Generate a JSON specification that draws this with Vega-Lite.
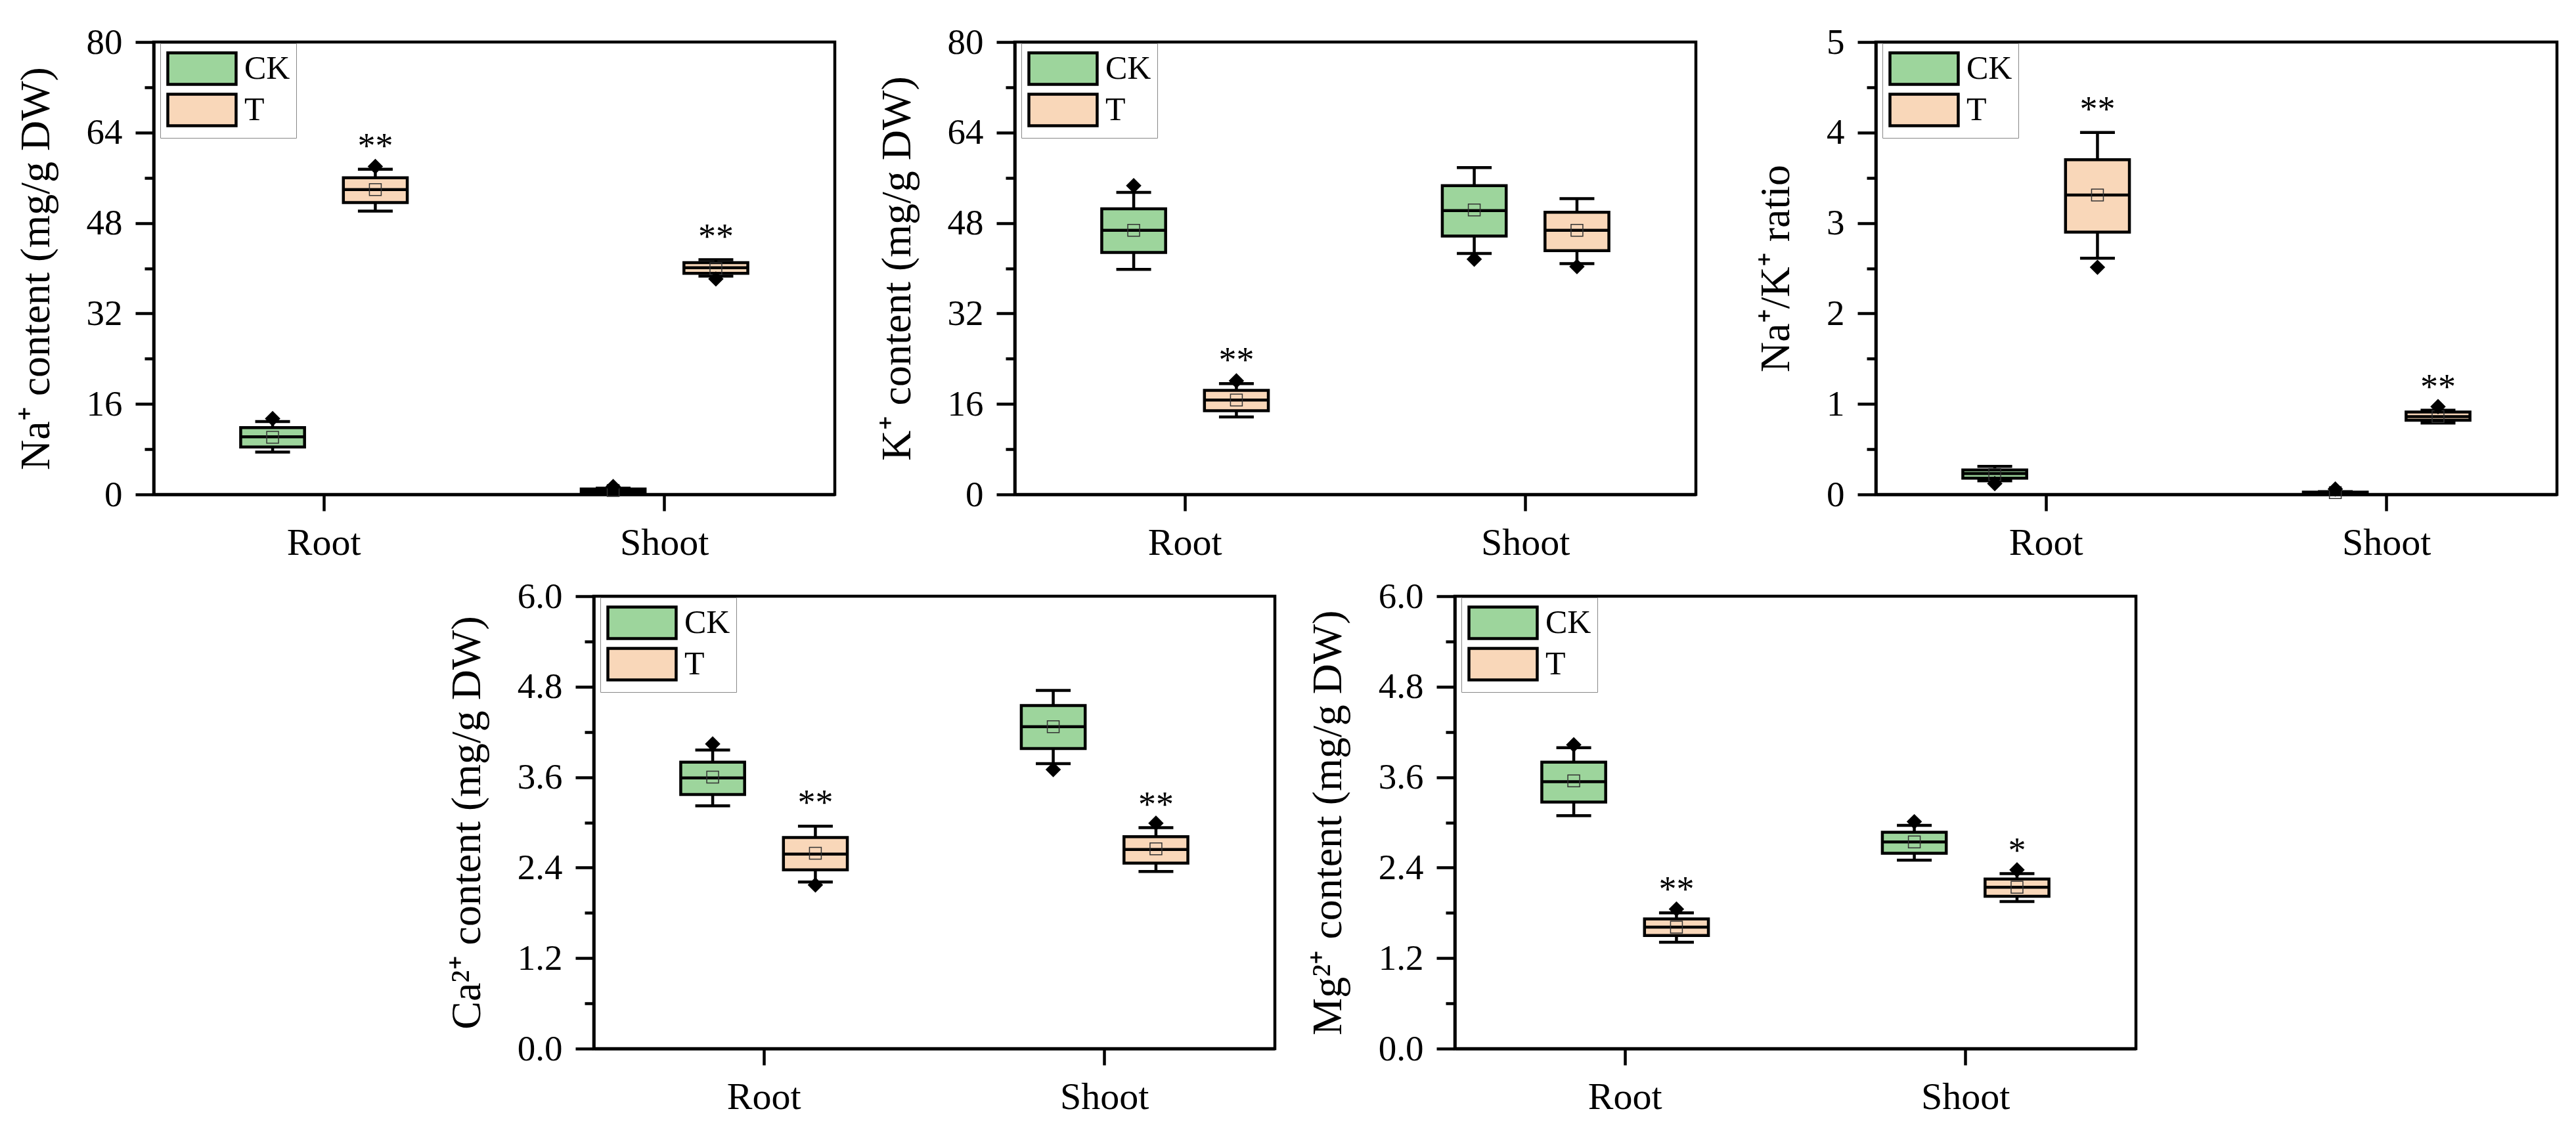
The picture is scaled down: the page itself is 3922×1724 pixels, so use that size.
{
  "$schema": "https://vega.github.io/schema/vega-lite/v6.json",
  "background": "white",
  "padding": {"left": 20, "top": 34, "right": 5, "bottom": 5},
  "datasets": {
    "stats": [
      {"panel": "p1", "tissue": "Root", "group": "CK", "lo": 7.5, "q1": 8.4, "med": 10.2, "q3": 11.8, "hi": 12.9, "mean": 10.1, "sig": ""},
      {"panel": "p1", "tissue": "Root", "group": "T", "lo": 50.1, "q1": 51.6, "med": 53.9, "q3": 56.0, "hi": 57.5, "mean": 53.9, "sig": "**"},
      {"panel": "p1", "tissue": "Shoot", "group": "CK", "lo": 0.3, "q1": 0.45, "med": 0.7, "q3": 0.95, "hi": 1.1, "mean": 0.7, "sig": ""},
      {"panel": "p1", "tissue": "Shoot", "group": "T", "lo": 38.6, "q1": 39.1, "med": 40.1, "q3": 41.0, "hi": 41.5, "mean": 39.9, "sig": "**"},
      {"panel": "p2", "tissue": "Root", "group": "CK", "lo": 39.8, "q1": 42.8, "med": 46.7, "q3": 50.5, "hi": 53.4, "mean": 46.7, "sig": ""},
      {"panel": "p2", "tissue": "Root", "group": "T", "lo": 13.7, "q1": 14.8, "med": 16.7, "q3": 18.4, "hi": 19.6, "mean": 16.7, "sig": "**"},
      {"panel": "p2", "tissue": "Shoot", "group": "CK", "lo": 42.6, "q1": 45.7, "med": 50.2, "q3": 54.6, "hi": 57.8, "mean": 50.3, "sig": ""},
      {"panel": "p2", "tissue": "Shoot", "group": "T", "lo": 40.8, "q1": 43.1, "med": 46.7, "q3": 49.9, "hi": 52.3, "mean": 46.7, "sig": ""},
      {"panel": "p3", "tissue": "Root", "group": "CK", "lo": 0.15, "q1": 0.18, "med": 0.23, "q3": 0.27, "hi": 0.31, "mean": 0.22, "sig": ""},
      {"panel": "p3", "tissue": "Root", "group": "T", "lo": 2.61, "q1": 2.9, "med": 3.31, "q3": 3.7, "hi": 4.0, "mean": 3.31, "sig": "**"},
      {"panel": "p3", "tissue": "Shoot", "group": "CK", "lo": 0.005, "q1": 0.01, "med": 0.02, "q3": 0.025, "hi": 0.03, "mean": 0.02, "sig": ""},
      {"panel": "p3", "tissue": "Shoot", "group": "T", "lo": 0.79, "q1": 0.82, "med": 0.86, "q3": 0.91, "hi": 0.93, "mean": 0.86, "sig": "**"},
      {"panel": "p4", "tissue": "Root", "group": "CK", "lo": 3.22, "q1": 3.37, "med": 3.59, "q3": 3.8, "hi": 3.96, "mean": 3.6, "sig": ""},
      {"panel": "p4", "tissue": "Root", "group": "T", "lo": 2.21, "q1": 2.37, "med": 2.58, "q3": 2.8, "hi": 2.95, "mean": 2.59, "sig": "**"},
      {"panel": "p4", "tissue": "Shoot", "group": "CK", "lo": 3.78, "q1": 3.98, "med": 4.27, "q3": 4.55, "hi": 4.75, "mean": 4.27, "sig": ""},
      {"panel": "p4", "tissue": "Shoot", "group": "T", "lo": 2.35, "q1": 2.46, "med": 2.64, "q3": 2.81, "hi": 2.93, "mean": 2.65, "sig": "**"},
      {"panel": "p5", "tissue": "Root", "group": "CK", "lo": 3.09, "q1": 3.27, "med": 3.54, "q3": 3.8, "hi": 3.99, "mean": 3.55, "sig": ""},
      {"panel": "p5", "tissue": "Root", "group": "T", "lo": 1.41, "q1": 1.5, "med": 1.61, "q3": 1.72, "hi": 1.8, "mean": 1.61, "sig": "**"},
      {"panel": "p5", "tissue": "Shoot", "group": "CK", "lo": 2.5, "q1": 2.59, "med": 2.74, "q3": 2.87, "hi": 2.96, "mean": 2.74, "sig": ""},
      {"panel": "p5", "tissue": "Shoot", "group": "T", "lo": 1.95, "q1": 2.02, "med": 2.14, "q3": 2.25, "hi": 2.32, "mean": 2.14, "sig": "*"}
    ],
    "outliers": [
      {"panel": "p1", "tissue": "Root", "group": "CK", "value": 13.4},
      {"panel": "p1", "tissue": "Root", "group": "T", "value": 58.0},
      {"panel": "p1", "tissue": "Shoot", "group": "CK", "value": 1.4},
      {"panel": "p1", "tissue": "Shoot", "group": "T", "value": 38.1},
      {"panel": "p2", "tissue": "Root", "group": "CK", "value": 54.6},
      {"panel": "p2", "tissue": "Root", "group": "T", "value": 20.1},
      {"panel": "p2", "tissue": "Shoot", "group": "CK", "value": 41.6},
      {"panel": "p2", "tissue": "Shoot", "group": "T", "value": 40.3},
      {"panel": "p3", "tissue": "Root", "group": "CK", "value": 0.12},
      {"panel": "p3", "tissue": "Root", "group": "T", "value": 2.51},
      {"panel": "p3", "tissue": "Shoot", "group": "CK", "value": 0.06},
      {"panel": "p3", "tissue": "Shoot", "group": "T", "value": 0.97},
      {"panel": "p4", "tissue": "Root", "group": "CK", "value": 4.04},
      {"panel": "p4", "tissue": "Root", "group": "T", "value": 2.17},
      {"panel": "p4", "tissue": "Shoot", "group": "CK", "value": 3.7},
      {"panel": "p4", "tissue": "Shoot", "group": "T", "value": 2.99},
      {"panel": "p5", "tissue": "Root", "group": "CK", "value": 4.03},
      {"panel": "p5", "tissue": "Root", "group": "T", "value": 1.85},
      {"panel": "p5", "tissue": "Shoot", "group": "CK", "value": 3.01},
      {"panel": "p5", "tissue": "Shoot", "group": "T", "value": 2.37}
    ]
  },
  "vconcat": [
    {
      "hconcat": [
        {
          "width": 1037, "height": 689,
          "data": {"name": "stats"},
          "transform": [{"filter": "datum.panel === 'p1'"}],
          "encoding": {
            "x": {"field": "tissue", "type": "nominal", "title": null, "scale": {"domain": ["Root", "Shoot"], "paddingInner": 0, "paddingOuter": 0}},
            "xOffset": {"field": "group", "type": "nominal", "scale": {"domain": ["CK", "T"], "paddingInner": 0.378, "paddingOuter": 0.847}}
          },
          "layer": [
            {"mark": {"type": "rule", "color": "black", "strokeWidth": 4.5},
             "encoding": {"y": {"field": "lo", "type": "quantitative", "title": "Na⁺ content (mg/g DW)", "scale": {"domain": [0, 80], "nice": false}, "axis": {"values": [0, 8, 16, 24, 32, 40, 48, 56, 64, 72, 80], "labelExpr": "datum.value % 16 === 0 ? datum.label : ''", "tickSize": {"condition": {"test": "datum.value % 16 !== 0", "value": 14}, "value": 28}}}, "y2": {"field": "hi"}}},
            {"transform": [{"fold": ["lo", "hi"], "as": ["k", "v"]}],
             "mark": {"type": "tick", "color": "black", "thickness": 4.5, "size": 53, "opacity": 1},
             "encoding": {"y": {"field": "v", "type": "quantitative", "title": "Na⁺ content (mg/g DW)", "scale": {"domain": [0, 80], "nice": false}, "axis": {"values": [0, 8, 16, 24, 32, 40, 48, 56, 64, 72, 80], "labelExpr": "datum.value % 16 === 0 ? datum.label : ''", "tickSize": {"condition": {"test": "datum.value % 16 !== 0", "value": 14}, "value": 28}}}}},
            {"mark": {"type": "bar", "stroke": "black", "strokeWidth": 4.5, "opacity": 1},
             "encoding": {"y": {"field": "q1", "type": "quantitative", "title": "Na⁺ content (mg/g DW)", "scale": {"domain": [0, 80], "nice": false}, "axis": {"values": [0, 8, 16, 24, 32, 40, 48, 56, 64, 72, 80], "labelExpr": "datum.value % 16 === 0 ? datum.label : ''", "tickSize": {"condition": {"test": "datum.value % 16 !== 0", "value": 14}, "value": 28}}}, "y2": {"field": "q3"},
               "color": {"field": "group", "type": "nominal", "scale": {"domain": ["CK", "T"], "range": ["#9DD59C", "#F9D7B9"]}, "legend": {"orient": "none", "legendX": 10, "legendY": 2, "title": null, "direction": "vertical"}}}},
            {"mark": {"type": "tick", "color": "black", "thickness": 4.5, "size": 100, "opacity": 1},
             "encoding": {"y": {"field": "med", "type": "quantitative", "title": "Na⁺ content (mg/g DW)", "scale": {"domain": [0, 80], "nice": false}, "axis": {"values": [0, 8, 16, 24, 32, 40, 48, 56, 64, 72, 80], "labelExpr": "datum.value % 16 === 0 ? datum.label : ''", "tickSize": {"condition": {"test": "datum.value % 16 !== 0", "value": 14}, "value": 28}}}}},
            {"mark": {"type": "point", "shape": "square", "filled": false, "size": 324, "color": "#333333", "strokeWidth": 1.5, "opacity": 1},
             "encoding": {"y": {"field": "mean", "type": "quantitative", "title": "Na⁺ content (mg/g DW)", "scale": {"domain": [0, 80], "nice": false}, "axis": {"values": [0, 8, 16, 24, 32, 40, 48, 56, 64, 72, 80], "labelExpr": "datum.value % 16 === 0 ? datum.label : ''", "tickSize": {"condition": {"test": "datum.value % 16 !== 0", "value": 14}, "value": 28}}}}},
            {"data": {"name": "outliers"}, "transform": [{"filter": "datum.panel === 'p1'"}],
             "mark": {"type": "point", "shape": "diamond", "filled": true, "size": 550, "color": "black", "opacity": 1},
             "encoding": {"y": {"field": "value", "type": "quantitative", "title": "Na⁺ content (mg/g DW)", "scale": {"domain": [0, 80], "nice": false}, "axis": {"values": [0, 8, 16, 24, 32, 40, 48, 56, 64, 72, 80], "labelExpr": "datum.value % 16 === 0 ? datum.label : ''", "tickSize": {"condition": {"test": "datum.value % 16 !== 0", "value": 14}, "value": 28}}}}},
            {"transform": [{"filter": "datum.sig !== ''"}],
             "mark": {"type": "text", "font": "Liberation Serif", "fontSize": 54, "dy": -18, "baseline": "alphabetic", "color": "black"},
             "encoding": {"text": {"field": "sig"}, "y": {"field": "hi", "type": "quantitative", "title": "Na⁺ content (mg/g DW)", "scale": {"domain": [0, 80], "nice": false}, "axis": {"values": [0, 8, 16, 24, 32, 40, 48, 56, 64, 72, 80], "labelExpr": "datum.value % 16 === 0 ? datum.label : ''", "tickSize": {"condition": {"test": "datum.value % 16 !== 0", "value": 14}, "value": 28}}}}}
          ]
        },
        {
          "width": 1037, "height": 689,
          "data": {"name": "stats"},
          "transform": [{"filter": "datum.panel === 'p2'"}],
          "encoding": {
            "x": {"field": "tissue", "type": "nominal", "title": null, "scale": {"domain": ["Root", "Shoot"], "paddingInner": 0, "paddingOuter": 0}},
            "xOffset": {"field": "group", "type": "nominal", "scale": {"domain": ["CK", "T"], "paddingInner": 0.378, "paddingOuter": 0.847}}
          },
          "layer": [
            {"mark": {"type": "rule", "color": "black", "strokeWidth": 4.5},
             "encoding": {"y": {"field": "lo", "type": "quantitative", "title": "K⁺ content (mg/g DW)", "scale": {"domain": [0, 80], "nice": false}, "axis": {"values": [0, 8, 16, 24, 32, 40, 48, 56, 64, 72, 80], "labelExpr": "datum.value % 16 === 0 ? datum.label : ''", "tickSize": {"condition": {"test": "datum.value % 16 !== 0", "value": 14}, "value": 28}}}, "y2": {"field": "hi"}}},
            {"transform": [{"fold": ["lo", "hi"], "as": ["k", "v"]}],
             "mark": {"type": "tick", "color": "black", "thickness": 4.5, "size": 53, "opacity": 1},
             "encoding": {"y": {"field": "v", "type": "quantitative", "title": "K⁺ content (mg/g DW)", "scale": {"domain": [0, 80], "nice": false}, "axis": {"values": [0, 8, 16, 24, 32, 40, 48, 56, 64, 72, 80], "labelExpr": "datum.value % 16 === 0 ? datum.label : ''", "tickSize": {"condition": {"test": "datum.value % 16 !== 0", "value": 14}, "value": 28}}}}},
            {"mark": {"type": "bar", "stroke": "black", "strokeWidth": 4.5, "opacity": 1},
             "encoding": {"y": {"field": "q1", "type": "quantitative", "title": "K⁺ content (mg/g DW)", "scale": {"domain": [0, 80], "nice": false}, "axis": {"values": [0, 8, 16, 24, 32, 40, 48, 56, 64, 72, 80], "labelExpr": "datum.value % 16 === 0 ? datum.label : ''", "tickSize": {"condition": {"test": "datum.value % 16 !== 0", "value": 14}, "value": 28}}}, "y2": {"field": "q3"},
               "color": {"field": "group", "type": "nominal", "scale": {"domain": ["CK", "T"], "range": ["#9DD59C", "#F9D7B9"]}, "legend": {"orient": "none", "legendX": 10, "legendY": 2, "title": null, "direction": "vertical"}}}},
            {"mark": {"type": "tick", "color": "black", "thickness": 4.5, "size": 100, "opacity": 1},
             "encoding": {"y": {"field": "med", "type": "quantitative", "title": "K⁺ content (mg/g DW)", "scale": {"domain": [0, 80], "nice": false}, "axis": {"values": [0, 8, 16, 24, 32, 40, 48, 56, 64, 72, 80], "labelExpr": "datum.value % 16 === 0 ? datum.label : ''", "tickSize": {"condition": {"test": "datum.value % 16 !== 0", "value": 14}, "value": 28}}}}},
            {"mark": {"type": "point", "shape": "square", "filled": false, "size": 324, "color": "#333333", "strokeWidth": 1.5, "opacity": 1},
             "encoding": {"y": {"field": "mean", "type": "quantitative", "title": "K⁺ content (mg/g DW)", "scale": {"domain": [0, 80], "nice": false}, "axis": {"values": [0, 8, 16, 24, 32, 40, 48, 56, 64, 72, 80], "labelExpr": "datum.value % 16 === 0 ? datum.label : ''", "tickSize": {"condition": {"test": "datum.value % 16 !== 0", "value": 14}, "value": 28}}}}},
            {"data": {"name": "outliers"}, "transform": [{"filter": "datum.panel === 'p2'"}],
             "mark": {"type": "point", "shape": "diamond", "filled": true, "size": 550, "color": "black", "opacity": 1},
             "encoding": {"y": {"field": "value", "type": "quantitative", "title": "K⁺ content (mg/g DW)", "scale": {"domain": [0, 80], "nice": false}, "axis": {"values": [0, 8, 16, 24, 32, 40, 48, 56, 64, 72, 80], "labelExpr": "datum.value % 16 === 0 ? datum.label : ''", "tickSize": {"condition": {"test": "datum.value % 16 !== 0", "value": 14}, "value": 28}}}}},
            {"transform": [{"filter": "datum.sig !== ''"}],
             "mark": {"type": "text", "font": "Liberation Serif", "fontSize": 54, "dy": -18, "baseline": "alphabetic", "color": "black"},
             "encoding": {"text": {"field": "sig"}, "y": {"field": "hi", "type": "quantitative", "title": "K⁺ content (mg/g DW)", "scale": {"domain": [0, 80], "nice": false}, "axis": {"values": [0, 8, 16, 24, 32, 40, 48, 56, 64, 72, 80], "labelExpr": "datum.value % 16 === 0 ? datum.label : ''", "tickSize": {"condition": {"test": "datum.value % 16 !== 0", "value": 14}, "value": 28}}}}}
          ]
        },
        {
          "width": 1037, "height": 689,
          "data": {"name": "stats"},
          "transform": [{"filter": "datum.panel === 'p3'"}],
          "encoding": {
            "x": {"field": "tissue", "type": "nominal", "title": null, "scale": {"domain": ["Root", "Shoot"], "paddingInner": 0, "paddingOuter": 0}},
            "xOffset": {"field": "group", "type": "nominal", "scale": {"domain": ["CK", "T"], "paddingInner": 0.378, "paddingOuter": 0.847}}
          },
          "layer": [
            {"mark": {"type": "rule", "color": "black", "strokeWidth": 4.5},
             "encoding": {"y": {"field": "lo", "type": "quantitative", "title": "Na⁺/K⁺ ratio", "scale": {"domain": [0, 5], "nice": false}, "axis": {"values": [0, 0.5, 1, 1.5, 2, 2.5, 3, 3.5, 4, 4.5, 5], "format": ".0f", "labelExpr": "datum.value % 1 === 0 ? datum.label : ''", "tickSize": {"condition": {"test": "datum.value % 1 !== 0", "value": 14}, "value": 28}}}, "y2": {"field": "hi"}}},
            {"transform": [{"fold": ["lo", "hi"], "as": ["k", "v"]}],
             "mark": {"type": "tick", "color": "black", "thickness": 4.5, "size": 53, "opacity": 1},
             "encoding": {"y": {"field": "v", "type": "quantitative", "title": "Na⁺/K⁺ ratio", "scale": {"domain": [0, 5], "nice": false}, "axis": {"values": [0, 0.5, 1, 1.5, 2, 2.5, 3, 3.5, 4, 4.5, 5], "format": ".0f", "labelExpr": "datum.value % 1 === 0 ? datum.label : ''", "tickSize": {"condition": {"test": "datum.value % 1 !== 0", "value": 14}, "value": 28}}}}},
            {"mark": {"type": "bar", "stroke": "black", "strokeWidth": 4.5, "opacity": 1},
             "encoding": {"y": {"field": "q1", "type": "quantitative", "title": "Na⁺/K⁺ ratio", "scale": {"domain": [0, 5], "nice": false}, "axis": {"values": [0, 0.5, 1, 1.5, 2, 2.5, 3, 3.5, 4, 4.5, 5], "format": ".0f", "labelExpr": "datum.value % 1 === 0 ? datum.label : ''", "tickSize": {"condition": {"test": "datum.value % 1 !== 0", "value": 14}, "value": 28}}}, "y2": {"field": "q3"},
               "color": {"field": "group", "type": "nominal", "scale": {"domain": ["CK", "T"], "range": ["#9DD59C", "#F9D7B9"]}, "legend": {"orient": "none", "legendX": 10, "legendY": 2, "title": null, "direction": "vertical"}}}},
            {"mark": {"type": "tick", "color": "black", "thickness": 4.5, "size": 100, "opacity": 1},
             "encoding": {"y": {"field": "med", "type": "quantitative", "title": "Na⁺/K⁺ ratio", "scale": {"domain": [0, 5], "nice": false}, "axis": {"values": [0, 0.5, 1, 1.5, 2, 2.5, 3, 3.5, 4, 4.5, 5], "format": ".0f", "labelExpr": "datum.value % 1 === 0 ? datum.label : ''", "tickSize": {"condition": {"test": "datum.value % 1 !== 0", "value": 14}, "value": 28}}}}},
            {"mark": {"type": "point", "shape": "square", "filled": false, "size": 324, "color": "#333333", "strokeWidth": 1.5, "opacity": 1},
             "encoding": {"y": {"field": "mean", "type": "quantitative", "title": "Na⁺/K⁺ ratio", "scale": {"domain": [0, 5], "nice": false}, "axis": {"values": [0, 0.5, 1, 1.5, 2, 2.5, 3, 3.5, 4, 4.5, 5], "format": ".0f", "labelExpr": "datum.value % 1 === 0 ? datum.label : ''", "tickSize": {"condition": {"test": "datum.value % 1 !== 0", "value": 14}, "value": 28}}}}},
            {"data": {"name": "outliers"}, "transform": [{"filter": "datum.panel === 'p3'"}],
             "mark": {"type": "point", "shape": "diamond", "filled": true, "size": 550, "color": "black", "opacity": 1},
             "encoding": {"y": {"field": "value", "type": "quantitative", "title": "Na⁺/K⁺ ratio", "scale": {"domain": [0, 5], "nice": false}, "axis": {"values": [0, 0.5, 1, 1.5, 2, 2.5, 3, 3.5, 4, 4.5, 5], "format": ".0f", "labelExpr": "datum.value % 1 === 0 ? datum.label : ''", "tickSize": {"condition": {"test": "datum.value % 1 !== 0", "value": 14}, "value": 28}}}}},
            {"transform": [{"filter": "datum.sig !== ''"}],
             "mark": {"type": "text", "font": "Liberation Serif", "fontSize": 54, "dy": -18, "baseline": "alphabetic", "color": "black"},
             "encoding": {"text": {"field": "sig"}, "y": {"field": "hi", "type": "quantitative", "title": "Na⁺/K⁺ ratio", "scale": {"domain": [0, 5], "nice": false}, "axis": {"values": [0, 0.5, 1, 1.5, 2, 2.5, 3, 3.5, 4, 4.5, 5], "format": ".0f", "labelExpr": "datum.value % 1 === 0 ? datum.label : ''", "tickSize": {"condition": {"test": "datum.value % 1 !== 0", "value": 14}, "value": 28}}}}}
          ]
        }
      ],
      "spacing": 274,
      "bounds": "flush",
      "resolve": {"scale": {"color": "independent"}, "legend": {"color": "independent"}}
    },
    {
      "hconcat": [
        {
          "width": 396, "height": 689,
          "data": {"values": []},
          "mark": "point",
          "view": {"stroke": null, "fill": null}
        },
        {
          "width": 1037, "height": 689,
          "data": {"name": "stats"},
          "transform": [{"filter": "datum.panel === 'p4'"}],
          "encoding": {
            "x": {"field": "tissue", "type": "nominal", "title": null, "scale": {"domain": ["Root", "Shoot"], "paddingInner": 0, "paddingOuter": 0}},
            "xOffset": {"field": "group", "type": "nominal", "scale": {"domain": ["CK", "T"], "paddingInner": 0.378, "paddingOuter": 0.847}}
          },
          "layer": [
            {"mark": {"type": "rule", "color": "black", "strokeWidth": 4.5},
             "encoding": {"y": {"field": "lo", "type": "quantitative", "title": "Ca²⁺ content (mg/g DW)", "scale": {"domain": [0, 6], "nice": false}, "axis": {"values": [0, 0.6, 1.2, 1.8, 2.4, 3.0, 3.6, 4.2, 4.8, 5.4, 6.0], "format": ".1f", "labelExpr": "abs(datum.value / 1.2 - round(datum.value / 1.2)) < 0.01 ? datum.label : ''", "tickSize": {"condition": {"test": "abs(datum.value / 1.2 - round(datum.value / 1.2)) > 0.01", "value": 14}, "value": 28}}}, "y2": {"field": "hi"}}},
            {"transform": [{"fold": ["lo", "hi"], "as": ["k", "v"]}],
             "mark": {"type": "tick", "color": "black", "thickness": 4.5, "size": 53, "opacity": 1},
             "encoding": {"y": {"field": "v", "type": "quantitative", "title": "Ca²⁺ content (mg/g DW)", "scale": {"domain": [0, 6], "nice": false}, "axis": {"values": [0, 0.6, 1.2, 1.8, 2.4, 3.0, 3.6, 4.2, 4.8, 5.4, 6.0], "format": ".1f", "labelExpr": "abs(datum.value / 1.2 - round(datum.value / 1.2)) < 0.01 ? datum.label : ''", "tickSize": {"condition": {"test": "abs(datum.value / 1.2 - round(datum.value / 1.2)) > 0.01", "value": 14}, "value": 28}}}}},
            {"mark": {"type": "bar", "stroke": "black", "strokeWidth": 4.5, "opacity": 1},
             "encoding": {"y": {"field": "q1", "type": "quantitative", "title": "Ca²⁺ content (mg/g DW)", "scale": {"domain": [0, 6], "nice": false}, "axis": {"values": [0, 0.6, 1.2, 1.8, 2.4, 3.0, 3.6, 4.2, 4.8, 5.4, 6.0], "format": ".1f", "labelExpr": "abs(datum.value / 1.2 - round(datum.value / 1.2)) < 0.01 ? datum.label : ''", "tickSize": {"condition": {"test": "abs(datum.value / 1.2 - round(datum.value / 1.2)) > 0.01", "value": 14}, "value": 28}}}, "y2": {"field": "q3"},
               "color": {"field": "group", "type": "nominal", "scale": {"domain": ["CK", "T"], "range": ["#9DD59C", "#F9D7B9"]}, "legend": {"orient": "none", "legendX": 10, "legendY": 2, "title": null, "direction": "vertical"}}}},
            {"mark": {"type": "tick", "color": "black", "thickness": 4.5, "size": 100, "opacity": 1},
             "encoding": {"y": {"field": "med", "type": "quantitative", "title": "Ca²⁺ content (mg/g DW)", "scale": {"domain": [0, 6], "nice": false}, "axis": {"values": [0, 0.6, 1.2, 1.8, 2.4, 3.0, 3.6, 4.2, 4.8, 5.4, 6.0], "format": ".1f", "labelExpr": "abs(datum.value / 1.2 - round(datum.value / 1.2)) < 0.01 ? datum.label : ''", "tickSize": {"condition": {"test": "abs(datum.value / 1.2 - round(datum.value / 1.2)) > 0.01", "value": 14}, "value": 28}}}}},
            {"mark": {"type": "point", "shape": "square", "filled": false, "size": 324, "color": "#333333", "strokeWidth": 1.5, "opacity": 1},
             "encoding": {"y": {"field": "mean", "type": "quantitative", "title": "Ca²⁺ content (mg/g DW)", "scale": {"domain": [0, 6], "nice": false}, "axis": {"values": [0, 0.6, 1.2, 1.8, 2.4, 3.0, 3.6, 4.2, 4.8, 5.4, 6.0], "format": ".1f", "labelExpr": "abs(datum.value / 1.2 - round(datum.value / 1.2)) < 0.01 ? datum.label : ''", "tickSize": {"condition": {"test": "abs(datum.value / 1.2 - round(datum.value / 1.2)) > 0.01", "value": 14}, "value": 28}}}}},
            {"data": {"name": "outliers"}, "transform": [{"filter": "datum.panel === 'p4'"}],
             "mark": {"type": "point", "shape": "diamond", "filled": true, "size": 550, "color": "black", "opacity": 1},
             "encoding": {"y": {"field": "value", "type": "quantitative", "title": "Ca²⁺ content (mg/g DW)", "scale": {"domain": [0, 6], "nice": false}, "axis": {"values": [0, 0.6, 1.2, 1.8, 2.4, 3.0, 3.6, 4.2, 4.8, 5.4, 6.0], "format": ".1f", "labelExpr": "abs(datum.value / 1.2 - round(datum.value / 1.2)) < 0.01 ? datum.label : ''", "tickSize": {"condition": {"test": "abs(datum.value / 1.2 - round(datum.value / 1.2)) > 0.01", "value": 14}, "value": 28}}}}},
            {"transform": [{"filter": "datum.sig !== ''"}],
             "mark": {"type": "text", "font": "Liberation Serif", "fontSize": 54, "dy": -18, "baseline": "alphabetic", "color": "black"},
             "encoding": {"text": {"field": "sig"}, "y": {"field": "hi", "type": "quantitative", "title": "Ca²⁺ content (mg/g DW)", "scale": {"domain": [0, 6], "nice": false}, "axis": {"values": [0, 0.6, 1.2, 1.8, 2.4, 3.0, 3.6, 4.2, 4.8, 5.4, 6.0], "format": ".1f", "labelExpr": "abs(datum.value / 1.2 - round(datum.value / 1.2)) < 0.01 ? datum.label : ''", "tickSize": {"condition": {"test": "abs(datum.value / 1.2 - round(datum.value / 1.2)) > 0.01", "value": 14}, "value": 28}}}}}
          ]
        },
        {
          "width": 1037, "height": 689,
          "data": {"name": "stats"},
          "transform": [{"filter": "datum.panel === 'p5'"}],
          "encoding": {
            "x": {"field": "tissue", "type": "nominal", "title": null, "scale": {"domain": ["Root", "Shoot"], "paddingInner": 0, "paddingOuter": 0}},
            "xOffset": {"field": "group", "type": "nominal", "scale": {"domain": ["CK", "T"], "paddingInner": 0.378, "paddingOuter": 0.847}}
          },
          "layer": [
            {"mark": {"type": "rule", "color": "black", "strokeWidth": 4.5},
             "encoding": {"y": {"field": "lo", "type": "quantitative", "title": "Mg²⁺ content (mg/g DW)", "scale": {"domain": [0, 6], "nice": false}, "axis": {"values": [0, 0.6, 1.2, 1.8, 2.4, 3.0, 3.6, 4.2, 4.8, 5.4, 6.0], "format": ".1f", "labelExpr": "abs(datum.value / 1.2 - round(datum.value / 1.2)) < 0.01 ? datum.label : ''", "tickSize": {"condition": {"test": "abs(datum.value / 1.2 - round(datum.value / 1.2)) > 0.01", "value": 14}, "value": 28}}}, "y2": {"field": "hi"}}},
            {"transform": [{"fold": ["lo", "hi"], "as": ["k", "v"]}],
             "mark": {"type": "tick", "color": "black", "thickness": 4.5, "size": 53, "opacity": 1},
             "encoding": {"y": {"field": "v", "type": "quantitative", "title": "Mg²⁺ content (mg/g DW)", "scale": {"domain": [0, 6], "nice": false}, "axis": {"values": [0, 0.6, 1.2, 1.8, 2.4, 3.0, 3.6, 4.2, 4.8, 5.4, 6.0], "format": ".1f", "labelExpr": "abs(datum.value / 1.2 - round(datum.value / 1.2)) < 0.01 ? datum.label : ''", "tickSize": {"condition": {"test": "abs(datum.value / 1.2 - round(datum.value / 1.2)) > 0.01", "value": 14}, "value": 28}}}}},
            {"mark": {"type": "bar", "stroke": "black", "strokeWidth": 4.5, "opacity": 1},
             "encoding": {"y": {"field": "q1", "type": "quantitative", "title": "Mg²⁺ content (mg/g DW)", "scale": {"domain": [0, 6], "nice": false}, "axis": {"values": [0, 0.6, 1.2, 1.8, 2.4, 3.0, 3.6, 4.2, 4.8, 5.4, 6.0], "format": ".1f", "labelExpr": "abs(datum.value / 1.2 - round(datum.value / 1.2)) < 0.01 ? datum.label : ''", "tickSize": {"condition": {"test": "abs(datum.value / 1.2 - round(datum.value / 1.2)) > 0.01", "value": 14}, "value": 28}}}, "y2": {"field": "q3"},
               "color": {"field": "group", "type": "nominal", "scale": {"domain": ["CK", "T"], "range": ["#9DD59C", "#F9D7B9"]}, "legend": {"orient": "none", "legendX": 10, "legendY": 2, "title": null, "direction": "vertical"}}}},
            {"mark": {"type": "tick", "color": "black", "thickness": 4.5, "size": 100, "opacity": 1},
             "encoding": {"y": {"field": "med", "type": "quantitative", "title": "Mg²⁺ content (mg/g DW)", "scale": {"domain": [0, 6], "nice": false}, "axis": {"values": [0, 0.6, 1.2, 1.8, 2.4, 3.0, 3.6, 4.2, 4.8, 5.4, 6.0], "format": ".1f", "labelExpr": "abs(datum.value / 1.2 - round(datum.value / 1.2)) < 0.01 ? datum.label : ''", "tickSize": {"condition": {"test": "abs(datum.value / 1.2 - round(datum.value / 1.2)) > 0.01", "value": 14}, "value": 28}}}}},
            {"mark": {"type": "point", "shape": "square", "filled": false, "size": 324, "color": "#333333", "strokeWidth": 1.5, "opacity": 1},
             "encoding": {"y": {"field": "mean", "type": "quantitative", "title": "Mg²⁺ content (mg/g DW)", "scale": {"domain": [0, 6], "nice": false}, "axis": {"values": [0, 0.6, 1.2, 1.8, 2.4, 3.0, 3.6, 4.2, 4.8, 5.4, 6.0], "format": ".1f", "labelExpr": "abs(datum.value / 1.2 - round(datum.value / 1.2)) < 0.01 ? datum.label : ''", "tickSize": {"condition": {"test": "abs(datum.value / 1.2 - round(datum.value / 1.2)) > 0.01", "value": 14}, "value": 28}}}}},
            {"data": {"name": "outliers"}, "transform": [{"filter": "datum.panel === 'p5'"}],
             "mark": {"type": "point", "shape": "diamond", "filled": true, "size": 550, "color": "black", "opacity": 1},
             "encoding": {"y": {"field": "value", "type": "quantitative", "title": "Mg²⁺ content (mg/g DW)", "scale": {"domain": [0, 6], "nice": false}, "axis": {"values": [0, 0.6, 1.2, 1.8, 2.4, 3.0, 3.6, 4.2, 4.8, 5.4, 6.0], "format": ".1f", "labelExpr": "abs(datum.value / 1.2 - round(datum.value / 1.2)) < 0.01 ? datum.label : ''", "tickSize": {"condition": {"test": "abs(datum.value / 1.2 - round(datum.value / 1.2)) > 0.01", "value": 14}, "value": 28}}}}},
            {"transform": [{"filter": "datum.sig !== ''"}],
             "mark": {"type": "text", "font": "Liberation Serif", "fontSize": 54, "dy": -18, "baseline": "alphabetic", "color": "black"},
             "encoding": {"text": {"field": "sig"}, "y": {"field": "hi", "type": "quantitative", "title": "Mg²⁺ content (mg/g DW)", "scale": {"domain": [0, 6], "nice": false}, "axis": {"values": [0, 0.6, 1.2, 1.8, 2.4, 3.0, 3.6, 4.2, 4.8, 5.4, 6.0], "format": ".1f", "labelExpr": "abs(datum.value / 1.2 - round(datum.value / 1.2)) < 0.01 ? datum.label : ''", "tickSize": {"condition": {"test": "abs(datum.value / 1.2 - round(datum.value / 1.2)) > 0.01", "value": 14}, "value": 28}}}}}
          ]
        }
      ],
      "spacing": 274,
      "bounds": "flush",
      "resolve": {"scale": {"color": "independent"}, "legend": {"color": "independent"}}
    }
  ],
  "spacing": 19,
  "resolve": {"scale": {"color": "independent"}, "legend": {"color": "independent"}},
  "config": {
    "font": "Liberation Serif",
    "view": {"stroke": "black", "strokeWidth": 4.5},
    "axis": {"domainColor": "black", "domainWidth": 4.5, "tickColor": "black", "tickWidth": 4.5, "labelFont": "Liberation Serif", "labelColor": "black", "titleFont": "Liberation Serif", "titleFontWeight": "normal", "titleColor": "black", "grid": false, "labelOverlap": false},
    "axisX": {"labelFontSize": 58, "tickSize": 25, "labelPadding": 20, "labelAngle": 0},
    "axisY": {"labelFontSize": 55, "labelPadding": 20, "titleFontSize": 64, "titlePadding": 44, "labelFlush": false},
    "legend": {"labelFont": "Liberation Serif", "labelFontSize": 50, "labelColor": "black", "symbolType": "M-1,-0.89H2.85V0.89H-1Z", "symbolSize": 2916, "symbolStrokeColor": "black", "symbolStrokeWidth": 4.5, "symbolOpacity": 1, "labelOffset": 60, "rowPadding": -4, "padding": 9, "strokeColor": "#888888", "fillColor": "white", "cornerRadius": 0}
  }
}
